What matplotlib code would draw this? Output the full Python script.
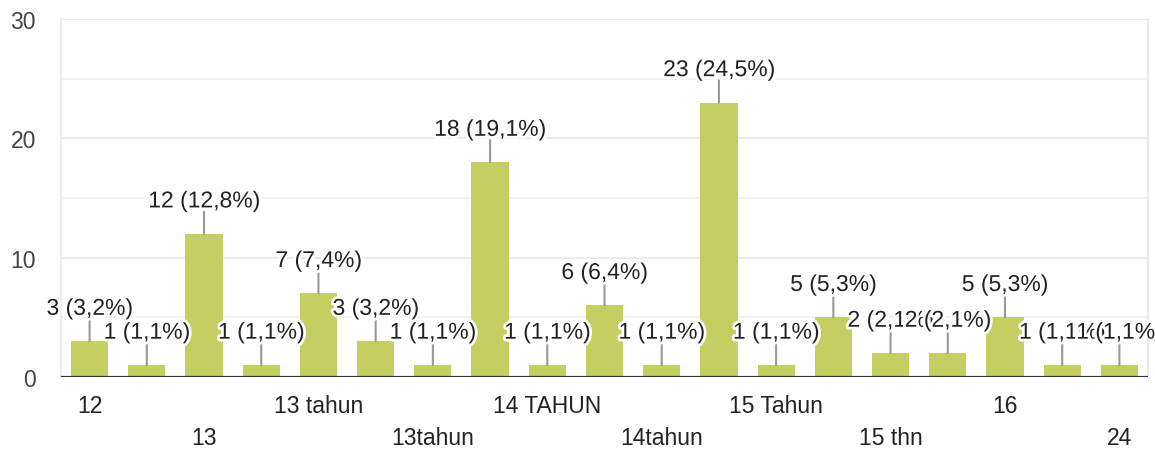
import matplotlib
matplotlib.use("Agg")
import matplotlib.pyplot as plt
import matplotlib.patheffects as pe

plt.rcParams["font.family"] = ["Liberation Sans", "DejaVu Sans"]

# data (only every second category name is shown)
categories = ["12", "", "13", "", "13 tahun", "", "13tahun", "", "14 TAHUN", "",
              "14tahun", "", "15 Tahun", "", "15 thn", "", "16", "", "24"]
counts = [3, 1, 12, 1, 7, 3, 1, 18, 1, 6, 1, 23, 1, 5, 2, 2, 5, 1, 1]
percents = ["3,2", "1,1", "12,8", "1,1", "7,4", "3,2", "1,1", "19,1", "1,1", "6,4",
            "1,1", "24,5", "1,1", "5,3", "2,1", "2,1", "5,3", "1,1", "1,1"]
yticks = [0, 10, 20, 30]

bar_color = "#c5ce60"
fs = 16.5

fig = plt.figure(figsize=(11.55, 4.52), dpi=100)
ax = fig.add_axes([61 / 1155, 1 - 378 / 452, 1087 / 1155, 358 / 452])

x = list(range(len(counts)))
ax.bar(x, counts, width=0.65, color=bar_color, zorder=2)

ax.set_xlim(-0.5, len(counts) - 0.5)
ax.set_ylim(0, 30)

# gridlines
for v in [5, 15, 25]:
    ax.axhline(v, color="#f3f3f3", lw=1.5, zorder=0)
for v in [10, 20, 30]:
    ax.axhline(v, color="#ebebeb", lw=1.5, zorder=0)
ax.axhline(0, color="#333333", lw=2.3, zorder=3)

for side in ["top", "bottom"]:
    ax.spines[side].set_visible(False)
for side in ["left", "right"]:
    ax.spines[side].set_color("#ebebeb")
    ax.spines[side].set_linewidth(1.5)

ax.set_yticks(yticks)
ax.set_yticklabels([str(t) for t in yticks], fontsize=fs, color="#444444")
ax.tick_params(axis="y", length=0, pad=18)
ax.set_xticks([])

# category labels in two rows
for i, name in enumerate(categories):
    if not name:
        continue
    row = (i // 2) % 2
    ax.annotate(name, xy=(i, 0), xycoords=("data", "axes fraction"),
                xytext=(0, -25.2 - 23 * row), textcoords="offset points",
                ha="center", va="baseline", fontsize=fs, color="#222222",
                annotation_clip=False)

# value labels with stems
for i, (c, p) in enumerate(zip(counts, percents)):
    ax.annotate("", xy=(i, c), xytext=(0, 16), textcoords="offset points",
                arrowprops=dict(arrowstyle="-", color="#999999", lw=1.5,
                                shrinkA=0, shrinkB=0), zorder=4)
    ax.annotate("{} ({}%)".format(c, p), xy=(i, c), xytext=(0, 19),
                textcoords="offset points", ha="center", va="baseline",
                fontsize=fs, color="#222222", zorder=5, annotation_clip=False,
                path_effects=[pe.withStroke(linewidth=4, foreground="white")])

fig.savefig("out.png", dpi=100)
